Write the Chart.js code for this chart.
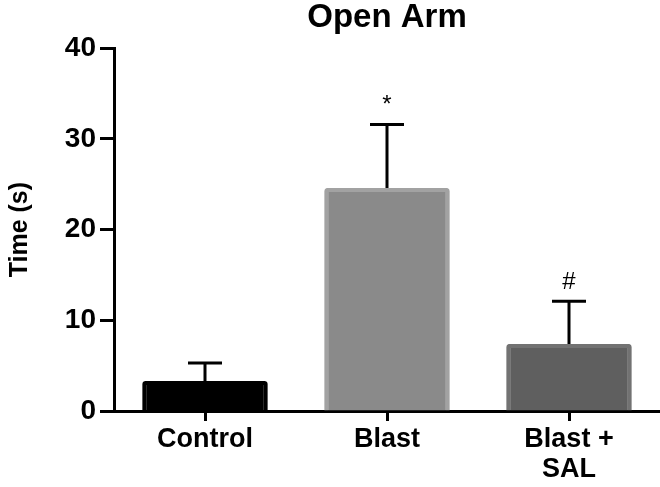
<!DOCTYPE html>
<html>
<head>
<meta charset="utf-8">
<script src="https://cdn.jsdelivr.net/npm/chart.js@4.4.1/dist/chart.umd.min.js"></script>
<style>
  html, body { margin: 0; padding: 0; background: #fff; }
  #wrap { width: 660px; height: 487px; }
</style>
</head>
<body>
<div id="wrap"><canvas id="armChart"></canvas></div>
<script>
// 数据
const groups = ["Control", "Blast", ["Blast +", "SAL"]];
const meanTime = [3.3, 24.6, 7.4];
const semTime = [2.0, 7.0, 4.7];
const sigMarks = ["", "*", "#"];
const yTicks = [0, 10, 20, 30, 40];

const FONT = "'Liberation Sans', Arial, sans-serif";

// error bars + significance marks
const errorBars = {
  id: "errorBars",
  afterDatasetsDraw(chart) {
    const ctx = chart.ctx;
    const y = chart.scales.y;
    const bars = chart.getDatasetMeta(0).data;
    ctx.save();
    ctx.strokeStyle = "#000";
    ctx.lineWidth = 3;
    bars.forEach((bar, i) => {
      const top = y.getPixelForValue(meanTime[i] + semTime[i]);
      const base = y.getPixelForValue(meanTime[i]);
      ctx.beginPath();
      ctx.moveTo(bar.x, base);
      ctx.lineTo(bar.x, top);
      ctx.moveTo(bar.x - 17, top);
      ctx.lineTo(bar.x + 17, top);
      ctx.stroke();
      if (sigMarks[i]) {
        ctx.fillStyle = "#000";
        ctx.font = "24px " + FONT;
        ctx.textAlign = "center";
        ctx.textBaseline = "alphabetic";
        ctx.fillText(sigMarks[i], bar.x, top - 12);
      }
    });
    ctx.restore();
  },
};

const armChart = new Chart(document.getElementById("armChart"), {
  type: "bar",
  data: {
    labels: groups,
    datasets: [{
      data: meanTime,
      backgroundColor: ["#000000", "#8a8a8a", "#5f5f5f"],
      borderColor: ["#000000", "#a2a2a2", "#727272"],
      borderWidth: 4,
      borderRadius: 3,
      borderSkipped: "bottom",
      categoryPercentage: 1,
      barPercentage: 0.69,
    }],
  },
  options: {
    responsive: true,
    maintainAspectRatio: false,
    animation: false,
    layout: { padding: 0 },
    plugins: {
      legend: { display: false },
      tooltip: { enabled: false },
      title: {
        display: true,
        text: "Open Arm",
        fullSize: false,
        color: "#000",
        font: { family: FONT, size: 33, weight: "bold", lineHeight: 1.1 },
        padding: { top: 0, bottom: 12 },
      },
    },
    scales: {
      x: {
        z: 1,
        grid: {
          offset: false,
          drawOnChartArea: false,
          tickLength: 10,
          tickWidth: 3,
          color: "#000",
        },
        border: { display: true, width: 3, color: "#000" },
        ticks: {
          color: "#000",
          padding: 4,
          maxRotation: 0,
          autoSkip: false,
          font: { family: FONT, size: 27, weight: "bold", lineHeight: 1.1 },
        },
        afterFit(scale) { scale.height = 76; },
      },
      y: {
        min: 0,
        max: 40,
        afterBuildTicks(scale) { scale.ticks = yTicks.map(v => ({ value: v })); },
        grid: {
          drawOnChartArea: false,
          tickLength: 14,
          tickWidth: 3,
          color: "#000",
        },
        border: { display: true, width: 3, color: "#000" },
        ticks: {
          color: "#000",
          padding: 4,
          font: { family: FONT, size: 28, weight: "bold" },
        },
        title: {
          display: true,
          text: "Time (s)",
          color: "#000",
          padding: { top: 5, bottom: 0 },
          font: { family: FONT, size: 25, weight: "bold" },
        },
        afterFit(scale) { scale.width = 114; },
      },
    },
  },
  plugins: [errorBars],
});
</script>
</body>
</html>
